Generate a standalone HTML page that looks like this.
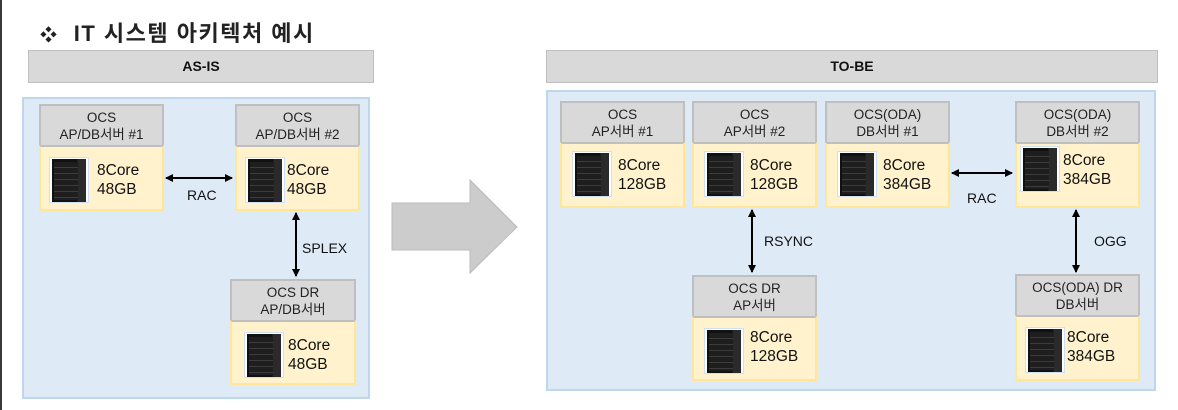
<!DOCTYPE html>
<html><head><meta charset="utf-8"><style>
body{margin:0;width:1178px;height:410px;background:#fff;position:relative;overflow:hidden;font-family:"Liberation Sans","Noto Sans CJK KR",sans-serif;}
div{position:absolute;box-sizing:border-box;}
.hdr{background:#d9d9d9;border:1px solid #bfbfbf;text-align:center;font-weight:bold;font-size:14px;line-height:30px;color:#111;}
.panel{background:#deeaf6;border:2px solid #bdd7ee;}
.bh{background:#d9d9d9;border:2px solid #bfbfbf;border-bottom:none;text-align:center;font-size:13.5px;line-height:17px;color:#222;padding-top:3px;}
.bb{background:#fff2cc;border:2px solid #ffe699;border-top:2px solid #bfbfbf;}
.ic{left:8px;top:10px;width:40px;height:46px;background:#fff;border:1px solid #cfe0f0;}
.ic:before{content:"";position:absolute;left:2px;top:1px;width:34px;height:43px;background:linear-gradient(90deg,#111 0 75%,#2a2a2a 75%),#111;}
.ic:after{content:"";position:absolute;left:4px;top:4px;width:24px;height:38px;background:repeating-linear-gradient(#1e1e1e 0 5px,#3c3c3c 5px 6px);}
.tx{left:56px;top:14px;font-size:15.5px;line-height:19px;color:#111;}
.lbl{font-size:14px;color:#111;}
</style></head><body>
<div style="left:0;top:0;width:2px;height:410px;background:#3a3a3a"></div>
<div style="left:40px;top:16px;font-size:22px;font-weight:bold;color:#222;letter-spacing:1.5px;"><span style="font-size:17px">❖</span>&nbsp; IT 시스템 아키텍처 예시</div>
<div class="hdr" style="left:28px;top:50px;width:346px;height:33px">AS-IS</div>
<div class="hdr" style="left:546px;top:50px;width:612px;height:33px">TO-BE</div>
<div class="panel" style="left:22px;top:97px;width:348px;height:302px"></div>
<div class="panel" style="left:546px;top:90px;width:610px;height:301px"></div>
<svg style="position:absolute;left:0;top:0" width="1178" height="410">
<defs><marker id="a" markerWidth="8" markerHeight="8" refX="7" refY="4" orient="auto-start-reverse" markerUnits="userSpaceOnUse"><path d="M0,0 L8,4 L0,8 z" fill="#000"/></marker></defs>
<polygon points="392,203 470,203 470,180 517,227 470,273 470,250 392,250" fill="#cccccc" stroke="#bbbbbb"/>
<line x1="166" y1="178" x2="232" y2="178" stroke="#000" stroke-width="2" marker-start="url(#a)" marker-end="url(#a)"/>
<line x1="296" y1="213" x2="296" y2="276" stroke="#000" stroke-width="2" marker-start="url(#a)" marker-end="url(#a)"/>
<line x1="952" y1="173" x2="1012" y2="173" stroke="#000" stroke-width="2" marker-start="url(#a)" marker-end="url(#a)"/>
<line x1="752" y1="210" x2="752" y2="272" stroke="#000" stroke-width="2" marker-start="url(#a)" marker-end="url(#a)"/>
<line x1="1076" y1="210" x2="1076" y2="272" stroke="#000" stroke-width="2" marker-start="url(#a)" marker-end="url(#a)"/>
</svg>
<div class="lbl" style="left:187px;top:187px">RAC</div>
<div class="lbl" style="left:302px;top:240px">SPLEX</div>
<div class="lbl" style="left:967px;top:190px">RAC</div>
<div class="lbl" style="left:764px;top:233px">RSYNC</div>
<div class="lbl" style="left:1094px;top:233px">OGG</div>

<div class="bh" style="left:39px;top:104px;width:125px;height:42px">OCS<br>AP/DB서버 #1</div>
<div class="bb" style="left:39px;top:145px;width:125px;height:66px"><div class="ic"></div><div class="tx">8Core<br>48GB</div></div>
<div class="bh" style="left:235px;top:104px;width:125px;height:42px">OCS<br>AP/DB서버 #2</div>
<div class="bb" style="left:235px;top:145px;width:125px;height:66px"><div class="ic"></div><div class="tx" style="left:50px">8Core<br>48GB</div></div>
<div class="bh" style="left:230px;top:279px;width:126px;height:42px">OCS DR<br>AP/DB서버</div>
<div class="bb" style="left:230px;top:320px;width:126px;height:65px"><div class="ic" style="left:12px"></div><div class="tx">8Core<br>48GB</div></div>

<div class="bh" style="left:560px;top:101px;width:125px;height:42px">OCS<br>AP서버 #1</div>
<div class="bb" style="left:560px;top:142px;width:125px;height:66px"><div class="ic" style="left:10px;top:7px"></div><div class="tx" style="top:12px">8Core<br>128GB</div></div>
<div class="bh" style="left:692px;top:101px;width:125px;height:42px">OCS<br>AP서버 #2</div>
<div class="bb" style="left:692px;top:142px;width:125px;height:66px"><div class="ic" style="left:10px;top:7px"></div><div class="tx" style="top:12px">8Core<br>128GB</div></div>
<div class="bh" style="left:825px;top:101px;width:125px;height:42px">OCS(ODA)<br>DB서버 #1</div>
<div class="bb" style="left:825px;top:142px;width:125px;height:66px"><div class="ic" style="left:10px;top:7px"></div><div class="tx" style="top:12px">8Core<br>384GB</div></div>
<div class="bh" style="left:1015px;top:101px;width:125px;height:42px">OCS(ODA)<br>DB서버 #2</div>
<div class="bb" style="left:1015px;top:142px;width:125px;height:66px"><div class="ic" style="left:3px;top:2px"></div><div class="tx" style="left:46px;top:7px">8Core<br>384GB</div></div>
<div class="bh" style="left:692px;top:275px;width:125px;height:42px">OCS DR<br>AP서버</div>
<div class="bb" style="left:692px;top:316px;width:125px;height:65px"><div class="ic" style="left:10px"></div><div class="tx" style="top:10px">8Core<br>128GB</div></div>
<div class="bh" style="left:1015px;top:274px;width:125px;height:42px">OCS(ODA) DR<br>DB서버</div>
<div class="bb" style="left:1015px;top:315px;width:125px;height:66px"><div class="ic" style="left:8px;top:10px"></div><div class="tx" style="left:50px;top:11px">8Core<br>384GB</div></div>
</body></html>
